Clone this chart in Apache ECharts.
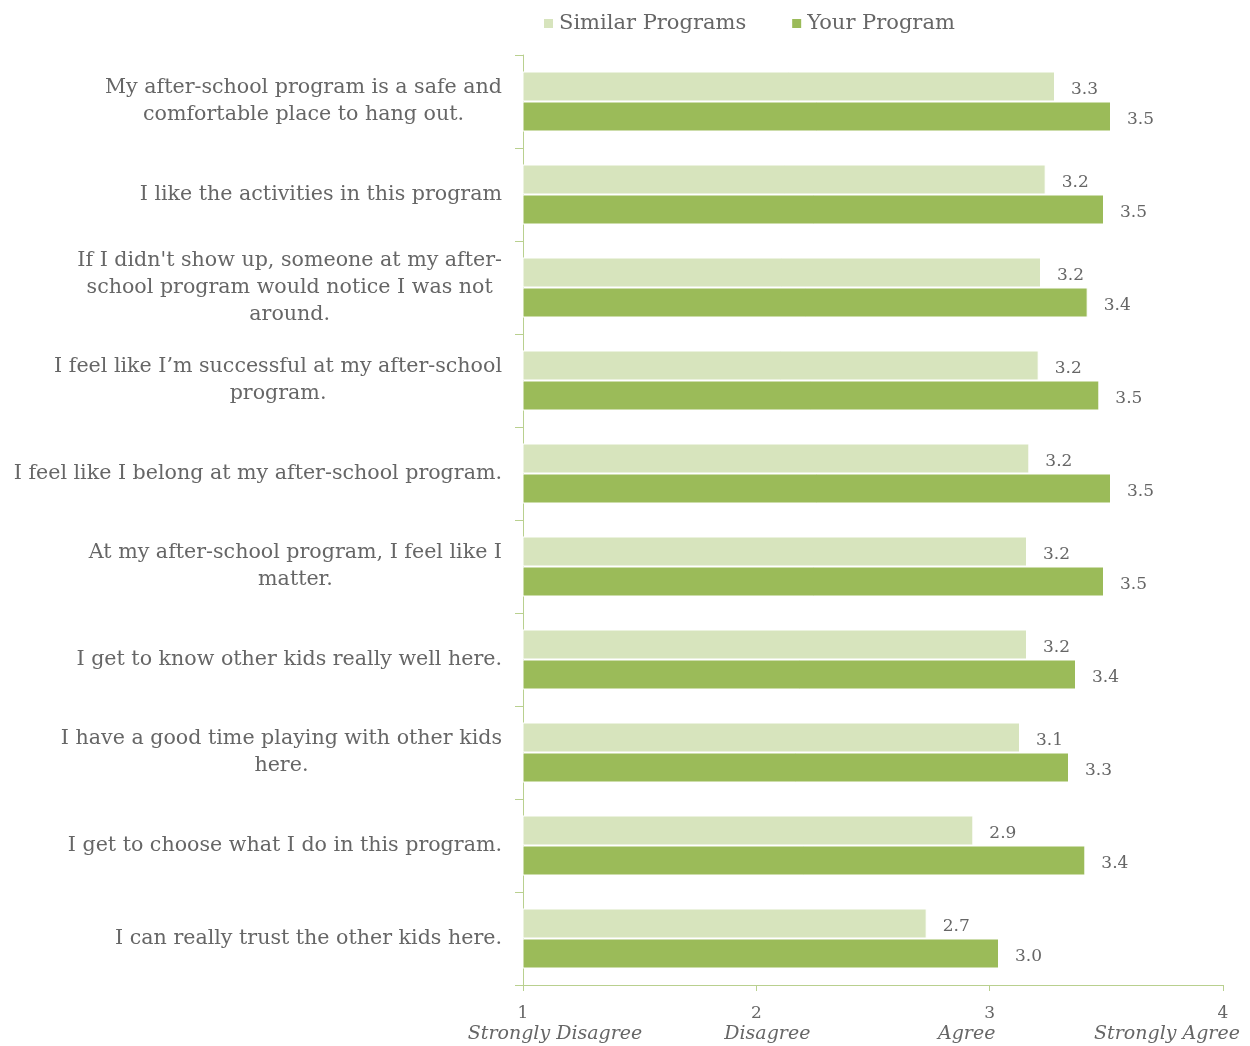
<!DOCTYPE html>
<html>
<head>
<meta charset="utf-8">
<script src="https://cdn.jsdelivr.net/npm/echarts@6/dist/echarts.min.js"></script>
<style>
  html, body { margin: 0; padding: 0; background: #fff; }
  #chart { width: 1250px; height: 1046px; }
</style>
</head>
<body>
<div id="chart"></div>
<script>
const categories = [
  'My after-school program is a safe and\ncomfortable place to hang out.',
  'I like the activities in this program',
  "If I didn't show up, someone at my after-\nschool program would notice I was not\naround.",
  'I feel like I\u2019m successful at my after-school\nprogram.',
  'I feel like I belong at my after-school program.',
  'At my after-school program, I feel like I\nmatter.',
  'I get to know other kids really well here.',
  'I have a good time playing with other kids\nhere.',
  'I get to choose what I do in this program.',
  'I can really trust the other kids here.'
]
const similarPrograms = [3.28, 3.24, 3.22, 3.21, 3.17, 3.16, 3.16, 3.13, 2.93, 2.73]
const yourProgram = [3.52, 3.49, 3.42, 3.47, 3.52, 3.49, 3.37, 3.34, 3.41, 3.04]
const tickLabels = ['Strongly Disagree', 'Disagree', 'Agree', 'Strongly Agree']

const font = 'DejaVu Serif'
const textColor = '#666666'
const lineColor = '#b9d08f'

const chart = echarts.init(document.getElementById('chart'))

const italic = function (pad) {
  return { fontSize: 19, fontStyle: 'italic', color: textColor, align: 'center', fontFamily: font, padding: pad, lineHeight: 24 }
}
const num = { fontSize: 17, color: textColor, align: 'center', fontFamily: font }

chart.setOption({
  animation: false,
  textStyle: { fontFamily: font },
  legend: {
    top: 8,
    left: 537,
    itemWidth: 11,
    itemHeight: 11,
    itemGap: 44,
    icon: 'rect',
    textStyle: { fontFamily: font, fontSize: 21, color: textColor },
    data: ['Similar Programs', 'Your Program']
  },
  grid: {
    left: 523,
    right: 27,
    top: 55,
    bottom: 61,
    outerBoundsMode: 'none'
  },
  xAxis: {
    type: 'value',
    min: 1,
    max: 4,
    interval: 1,
    splitLine: { show: false },
    axisLine: { show: true, lineStyle: { color: lineColor, width: 1 } },
    axisTick: { show: true, length: 6, lineStyle: { color: lineColor } },
    axisLabel: {
      margin: 20,
      hideOverlap: false,
      formatter: function (v) {
        const i = Math.round(v) - 1
        return '{n' + i + '|' + v + '}\n{a' + i + '|' + tickLabels[i] + '}'
      },
      rich: {
        n0: num, n1: num, n2: num, n3: num,
        a0: italic([0, 0, 0, 64]),
        a1: italic([0, 0, 0, 22]),
        a2: italic([0, 46, 0, 0]),
        a3: italic([0, 112, 0, 0])
      }
    }
  },
  yAxis: {
    type: 'category',
    inverse: true,
    data: categories,
    axisLine: { show: true, lineStyle: { color: lineColor } },
    axisTick: { show: true, length: 8, lineStyle: { color: lineColor } },
    axisLabel: {
      margin: 21,
      formatter: function (v) {
        return v.split('\n').map(function (l) { return '{c|' + l + '}' }).join('\n')
      },
      rich: {
        c: { fontFamily: font, fontSize: 20.6, color: textColor, align: 'center', lineHeight: 27 }
      }
    }
  },
  series: [
    {
      name: 'Similar Programs',
      type: 'bar',
      data: similarPrograms,
      barWidth: 30,
      barGap: '0%',
      itemStyle: { color: '#d7e4bd', borderColor: '#fff', borderWidth: 1 },
      label: {
        show: true,
        position: 'right',
        distance: 16,
        offset: [0, 3],
        fontFamily: font,
        fontSize: 17,
        color: textColor,
        formatter: function (p) { return p.value.toFixed(1) }
      }
    },
    {
      name: 'Your Program',
      type: 'bar',
      data: yourProgram,
      barWidth: 30,
      barGap: '0%',
      itemStyle: { color: '#9bbb59', borderColor: '#fff', borderWidth: 1 },
      label: {
        show: true,
        position: 'right',
        distance: 16,
        offset: [0, 3],
        fontFamily: font,
        fontSize: 17,
        color: textColor,
        formatter: function (p) { return p.value.toFixed(1) }
      }
    }
  ]
})
</script>
</body>
</html>
